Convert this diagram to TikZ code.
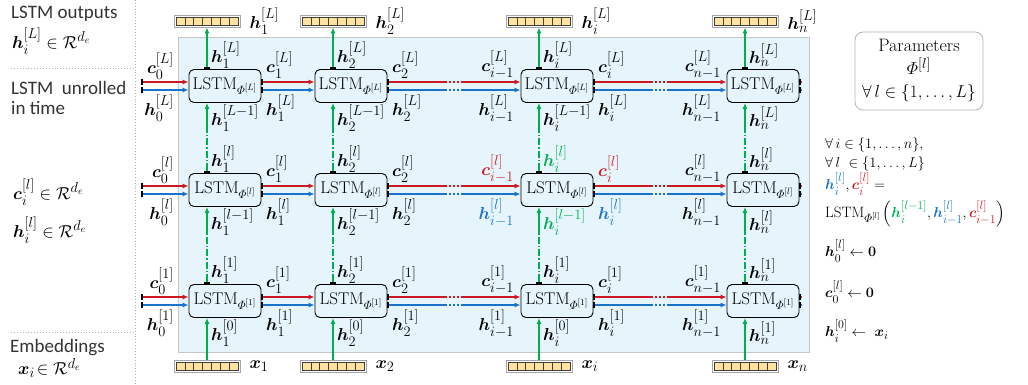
\documentclass[tikz,border=0pt]{standalone}
\usepackage{amsmath,bm}
\usepackage{fontspec}
\newfontfamily\carlito{Carlito}
\usetikzlibrary{arrows.meta,calc}

\DeclareMathSizes{15}{15}{11.5}{8.5}
\DeclareMathSizes{17}{17}{12.5}{9.5}
\DeclareMathSizes{17.5}{17.5}{13.5}{10}
\DeclareMathSizes{18}{18}{13.5}{10}

\definecolor{cellred}{RGB}{205,25,35}
\definecolor{cellblue}{RGB}{25,115,200}
\definecolor{layergreen}{RGB}{0,176,80}
\definecolor{bgblue}{RGB}{230,245,252}
\definecolor{vecfill}{RGB}{255,225,160}

\tikzset{
  Tick/.tip={Bar[color=black,width=6pt,line width=1.8pt]},
  >={Latex[length=6pt,width=5pt]},
  lstm/.style={draw, rounded corners=5pt, minimum width=72pt, minimum height=33pt, inner sep=0pt,
    line width=0.9pt, font=\fontsize{17}{19}\selectfont},
  lbl/.style={inner sep=0pt, font=\fontsize{17.5}{20}\selectfont},
  side/.style={inner sep=0pt, anchor=west, text=black!80, font=\carlito\fontsize{19}{22}\selectfont},
  eqtxt/.style={inner sep=0pt, anchor=west, font=\fontsize{15}{17}\selectfont},
  flow/.style={line width=1.4pt},
  lflow/.style={layergreen, line width=1.2pt},
  sepline/.style={gray!60, dotted, line width=0.9pt},
  embvec/.style={draw=gray!70, fill=white, line width=0.8pt, minimum width=66pt, minimum height=12pt, inner sep=0pt,
    path picture={
      \foreach \k in {0,...,6}
        \draw[fill=vecfill, draw=black!75, line width=0.5pt]
          ([xshift={2pt+\k*8.86pt}, yshift=2pt]path picture bounding box.south west) rectangle ++(8.86pt,8pt);
    }},
  parbox/.style={draw=gray!60, rounded corners=8pt, line width=0.8pt, minimum width=128pt, minimum height=78pt,
    align=center, font=\fontsize{18}{23}\selectfont}
}

\begin{document}
\begin{tikzpicture}[x=1pt,y=-1pt]
  \useasboundingbox (0,0) rectangle (1028,385);

  % Fondo de la red desplegada
  \draw[draw=gray!45, fill=bgblue, line width=1pt] (178,38) rectangle (809,352);

  % Separadores de la columna izquierda
  \draw[sepline] (135,0) -- (135,385);
  \draw[sepline] (11,68) -- (133,68);
  \draw[sepline] (11,332) -- (133,332);

  % Textos de la columna izquierda
  \node[side] (t-out) at (11,14) {LSTM outputs};
  \node[lbl, anchor=west] (t-outdim) at (12,41) {$\bm{h}_i^{[L]}\in\mathcal{R}^{d_e}$};
  \node[side] (t-unroll) at (11,88) {LSTM\ \ unrolled};
  \node[side] (t-time) at (11,108) {in time};
  \node[lbl, anchor=west] (t-cdim) at (13,192) {$\bm{c}_i^{[l]}\in\mathcal{R}^{d_e}$};
  \node[lbl, anchor=west] (t-hdim) at (13,230) {$\bm{h}_i^{[l]}\in\mathcal{R}^{d_e}$};
  \node[side] (t-emb) at (10,348) {Embeddings};
  \node[lbl, anchor=west] (t-xdim) at (18,368) {$\bm{x}_i\!\in\mathcal{R}^{d_e}$};

  % Celdas LSTM (columnas = tiempo, filas = capas)
  \foreach \col/\x in {1/225, 2/351, i/557, n/763}
    \foreach \row/\y in {L/86, l/190, 1/301}
      \node[lstm] (b-\col-\row) at (\x,\y) {LSTM$_{\varPhi^{[\row]}}$};

  % Vectores de salida y de entrada
  \foreach \col/\x in {1/207, 2/333, i/539, n/745} {
    \node[embvec] (out-\col) at (\x,21) {};
    \node[embvec] (emb-\col) at (\x,366) {};
    \node[lbl, anchor=west] (outlbl-\col) at ([xshift=9pt]out-\col.east) {$\bm{h}_{\col}^{[L]}$};
    \node[lbl, anchor=west] (emblbl-\col) at ([xshift=9pt]emb-\col.east) {$\bm{x}_{\col}$};
  }

  % Conexiones entre capas (verde)
  \foreach \col in {1, 2, i, n} {
    \draw[lflow, Tick->] (out-\col.south |- b-\col-L.north) -- (out-\col.south);
    \draw[lflow, ->] (emb-\col.north) -- (emb-\col.north |- b-\col-1.south);
    \foreach \lo/\hi in {1/l, l/L} {
      \coordinate (p) at (emb-\col.north |- b-\col-\lo.north);
      \coordinate (q) at (emb-\col.north |- b-\col-\hi.south);
      \draw[lflow, Tick-] (p) -- ++(0,-3);
      \draw[lflow, dash pattern=on 7pt off 2pt on 1.5pt off 2pt] ($(p)+(0,-3)$) -- ($(q)+(0,28)$);
      \draw[lflow, ->] ($(q)+(0,28)$) -- (q);
    }
  }

  % Conexiones en el tiempo (rojo = c, azul = h)
  \foreach \row in {L, l, 1} {
    \path (b-1-\row.center) ++(-84,0) coordinate (s-\row);
    \foreach \fc/\dy in {cellred/4pt, cellblue/-4pt} {
      \draw[flow, draw=\fc, Tick->] ([yshift=\dy]s-\row) -- ([yshift=\dy]b-1-\row.west);
      \draw[flow, draw=\fc, Tick->] ([yshift=\dy]b-1-\row.east) -- ([yshift=\dy]b-2-\row.west);
      \foreach \a/\b in {2/i, i/n} {
        \coordinate (m) at ($(b-\a-\row.east)!0.5!(b-\b-\row.west)$);
        \draw[flow, draw=\fc, Tick-] ([yshift=\dy]b-\a-\row.east) -- ([xshift=-7pt, yshift=\dy]m);
        \draw[flow, draw=\fc, dash pattern=on 2pt off 2pt] ([xshift=-5pt, yshift=\dy]m) -- ([xshift=5pt, yshift=\dy]m);
        \draw[flow, draw=\fc, ->] ([xshift=7pt, yshift=\dy]m) -- ([yshift=\dy]b-\b-\row.west);
      }
      \draw[flow, draw=\fc, Tick-] ([yshift=\dy]b-n-\row.east) -- ++(2,0);
    }
  }

  % Etiquetas de cada celda
  \foreach \row/\lo/\cc/\hc/\gc in {L/L-1/black/black/black, l/l-1/cellred/cellblue/layergreen, 1/0/black/black/black} {
    % columna 1: estados iniciales
    \node[lbl, anchor=east] (c0-\row) at ([xshift=-51pt, yshift=20pt]b-1-\row.center) {$\bm{c}_0^{[\row]}$};
    \node[lbl, anchor=east] (h0-\row) at ([xshift=-51pt, yshift=-22pt]b-1-\row.center) {$\bm{h}_0^{[\row]}$};
    % columnas 1 y 2
    \foreach \col in {1, 2} {
      \node[lbl, anchor=west] (ht-\col-\row) at ([xshift=-14pt, yshift=31pt]b-\col-\row.center) {$\bm{h}_{\col}^{[\row]}$};
      \node[lbl, anchor=west] (hb-\col-\row) at ([xshift=-14pt, yshift=-32pt]b-\col-\row.center) {$\bm{h}_{\col}^{[\lo]}$};
      \node[lbl, anchor=west] (cr-\col-\row) at ([xshift=41pt, yshift=21pt]b-\col-\row.center) {$\bm{c}_{\col}^{[\row]}$};
      \node[lbl, anchor=west] (hr-\col-\row) at ([xshift=41pt, yshift=-22pt]b-\col-\row.center) {$\bm{h}_{\col}^{[\row]}$};
    }
    % columna i
    \node[lbl, anchor=west, text=\gc] (ht-i-\row) at ([xshift=-14pt, yshift=31pt]b-i-\row.center) {$\bm{h}_i^{[\row]}$};
    \node[lbl, anchor=west, text=\gc] (hb-i-\row) at ([xshift=-14pt, yshift=-32pt]b-i-\row.center) {$\bm{h}_i^{[\lo]}$};
    \node[lbl, anchor=west, text=\cc] (cr-i-\row) at ([xshift=41pt, yshift=21pt]b-i-\row.center) {$\bm{c}_i^{[\row]}$};
    \node[lbl, anchor=west, text=\hc] (hr-i-\row) at ([xshift=41pt, yshift=-22pt]b-i-\row.center) {$\bm{h}_i^{[\row]}$};
    \node[lbl, anchor=east, text=\cc] (cl-i-\row) at ([xshift=-43pt, yshift=21pt]b-i-\row.center) {$\bm{c}_{i-1}^{[\row]}$};
    \node[lbl, anchor=east, text=\hc] (hl-i-\row) at ([xshift=-43pt, yshift=-23pt]b-i-\row.center) {$\bm{h}_{i-1}^{[\row]}$};
    % columna n
    \node[lbl, anchor=west] (ht-n-\row) at ([xshift=-14pt, yshift=31pt]b-n-\row.center) {$\bm{h}_n^{[\row]}$};
    \node[lbl, anchor=west] (hb-n-\row) at ([xshift=-14pt, yshift=-32pt]b-n-\row.center) {$\bm{h}_n^{[\row]}$};
    \node[lbl, anchor=east] (cl-n-\row) at ([xshift=-42pt, yshift=21pt]b-n-\row.center) {$\bm{c}_{n-1}^{[\row]}$};
    \node[lbl, anchor=east] (hl-n-\row) at ([xshift=-42pt, yshift=-23pt]b-n-\row.center) {$\bm{h}_{n-1}^{[\row]}$};
  }

  % Parametros y ecuaciones (derecha)
  \node[parbox] (params) at (919,71) {Parameters\\ $\varPhi^{[l]}$\\ $\forall\, l\in\{1,\dots,L\}$};
  \node[eqtxt] (eq-i) at (825,145) {$\forall\, i\in\{1,\dots,n\},$};
  \node[eqtxt] (eq-l) at (825,164) {$\forall\, l\ \in\{1,\dots,L\}$};
  \node[eqtxt] (eq-hc) at (825,184) {${\color{cellblue}\bm{h}_i^{[l]}},{\color{cellred}\bm{c}_i^{[l]}} =$};
  \node[eqtxt] (eq-lstm) at (825,214) {$\mathrm{LSTM}_{\varPhi^{[l]}}\left({\color{layergreen}\bm{h}_i^{[l-1]}},{\color{cellblue}\bm{h}_{i-1}^{[l]}},{\color{cellred}\bm{c}_{i-1}^{[l]}}\right)$};
  \node[eqtxt] (eq-h0) at (825,251) {$\bm{h}_0^{[l]}\leftarrow\bm{0}$};
  \node[eqtxt] (eq-c0) at (825,292) {$\bm{c}_0^{[l]}\leftarrow\bm{0}$};
  \node[eqtxt] (eq-x) at (825,331) {$\bm{h}_i^{[0]}\leftarrow\ \bm{x}_i$};
\end{tikzpicture}
\end{document}
